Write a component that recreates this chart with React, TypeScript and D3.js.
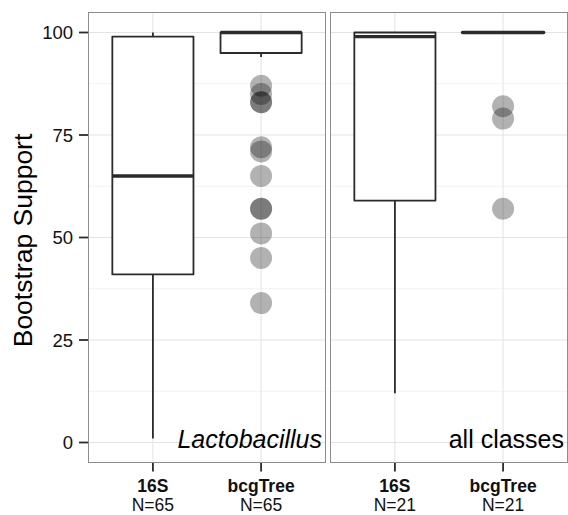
import React from "react";
import * as d3 from "d3";

const facets = ["Lactobacillus", "all classes"];
const facetItalic = [true, false];
const categories = ["16S", "bcgTree"];
const counts = [
  [65, 65],
  [21, 21],
];
// box stats per facet per category: [lowerWhisker, q1, median, q3, upperWhisker]
const boxStats = [
  [
    [1, 41, 65, 99, 100],
    [94, 95, 100, 100, 100],
  ],
  [
    [12, 59, 99, 100, 100],
    [100, 100, 100, 100, 100],
  ],
];
// outliers per facet per category
const outliers = [
  [[], [87, 85, 83, 83, 72, 71, 65, 57, 57, 51, 45, 34]],
  [[], [82, 79, 57]],
];
const yTicks = [0, 25, 50, 75, 100];
const yMinor = [12.5, 37.5, 62.5, 87.5];
const yLabel = "Bootstrap Support";

const W = 568;
const H = 515;
const panelTop = 12;
const panelBottom = 463;
const panelLefts = [88, 330];
const panelWidth = 238;

export default function App() {
  const y = d3.scaleLinear().domain([-5, 105]).range([panelBottom, panelTop]);
  const font = "'Liberation Sans', Arial, Helvetica, sans-serif";
  const ink = "#2b2b2b";

  return (
    <svg
      width={W}
      height={H}
      style={{ position: "absolute", left: 0, top: 0, background: "#fff" }}
      fontFamily={font}
    >
      <rect x={0} y={0} width={W} height={H} fill="#fff" />
      {facets.map((f, fi) => {
        const x = d3
          .scaleLinear()
          .domain([0.4, 2.6])
          .range([panelLefts[fi], panelLefts[fi] + panelWidth]);
        const xs = (c: string) => x(categories.indexOf(c) + 1);
        const bw = x(1.375) - x(0.625);
        return (
          <g key={f}>
            <rect
              x={panelLefts[fi]}
              y={panelTop}
              width={panelWidth}
              height={panelBottom - panelTop}
              fill="#fff"
            />
            {yMinor.map((t) => (
              <line
                key={"mi" + t}
                x1={panelLefts[fi]}
                x2={panelLefts[fi] + panelWidth}
                y1={y(t)}
                y2={y(t)}
                stroke="#f2f2f2"
                strokeWidth={1}
              />
            ))}
            {yTicks.map((t) => (
              <line
                key={"ma" + t}
                x1={panelLefts[fi]}
                x2={panelLefts[fi] + panelWidth}
                y1={y(t)}
                y2={y(t)}
                stroke="#e3e3e3"
                strokeWidth={1}
              />
            ))}
            {categories.map((c) => (
              <line
                key={"vg" + c}
                x1={xs(c)}
                x2={xs(c)}
                y1={panelTop}
                y2={panelBottom}
                stroke="#e3e3e3"
                strokeWidth={1}
              />
            ))}
            {categories.map((c, ci) => {
              const [lo, q1, med, q3, hi] = boxStats[fi][ci];
              const cx = xs(c);
              return (
                <g key={"box" + c}>
                  <line x1={cx} x2={cx} y1={y(hi)} y2={y(q3)} stroke={ink} strokeWidth={1.8} />
                  <line x1={cx} x2={cx} y1={y(q1)} y2={y(lo)} stroke={ink} strokeWidth={1.8} />
                  <rect
                    x={cx - bw / 2}
                    y={y(q3)}
                    width={bw}
                    height={Math.max(0, y(q1) - y(q3))}
                    fill="#fff"
                    stroke={ink}
                    strokeWidth={1.8}
                    strokeLinejoin="round"
                  />
                  <line
                    x1={cx - bw / 2}
                    x2={cx + bw / 2}
                    y1={y(med)}
                    y2={y(med)}
                    stroke={ink}
                    strokeWidth={3.4}
                    strokeLinecap={q1 === q3 ? "round" : "butt"}
                  />
                  {outliers[fi][ci].map((v, k) => (
                    <circle key={k} cx={cx} cy={y(v)} r={11} fill="#000" fillOpacity={0.3} />
                  ))}
                </g>
              );
            })}
            <rect
              x={panelLefts[fi] + 0.5}
              y={panelTop + 0.5}
              width={panelWidth - 1}
              height={panelBottom - panelTop - 1}
              fill="none"
              stroke="#8c8c8c"
              strokeWidth={1}
            />
            <text
              x={panelLefts[fi] + panelWidth - 4}
              y={448}
              textAnchor="end"
              fontSize={25}
              fontStyle={facetItalic[fi] ? "italic" : "normal"}
              fill="#000"
            >
              {f}
            </text>
            {categories.map((c, ci) => (
              <g key={"xt" + c}>
                <line x1={xs(c)} x2={xs(c)} y1={panelBottom} y2={panelBottom + 8.5} stroke={ink} strokeWidth={1.8} />
                <text x={xs(c)} y={492} textAnchor="middle" fontSize={17.5} fontWeight="bold" fill="#111">
                  {c}
                </text>
                <text x={xs(c)} y={510.5} textAnchor="middle" fontSize={17.5} fill="#111">
                  {"N=" + counts[fi][ci]}
                </text>
              </g>
            ))}
          </g>
        );
      })}
      {yTicks.map((t) => (
        <g key={"yt" + t}>
          <line x1={79} x2={88} y1={y(t)} y2={y(t)} stroke={ink} strokeWidth={1.8} />
          <text x={73} y={y(t)} dy="0.36em" textAnchor="end" fontSize={18.5} fill="#111">
            {t}
          </text>
        </g>
      ))}
      <text
        transform={`translate(32,${(panelTop + panelBottom) / 2 + 3}) rotate(-90)`}
        textAnchor="middle"
        fontSize={26.5}
        fill="#000"
      >
        {yLabel}
      </text>
    </svg>
  );
}
